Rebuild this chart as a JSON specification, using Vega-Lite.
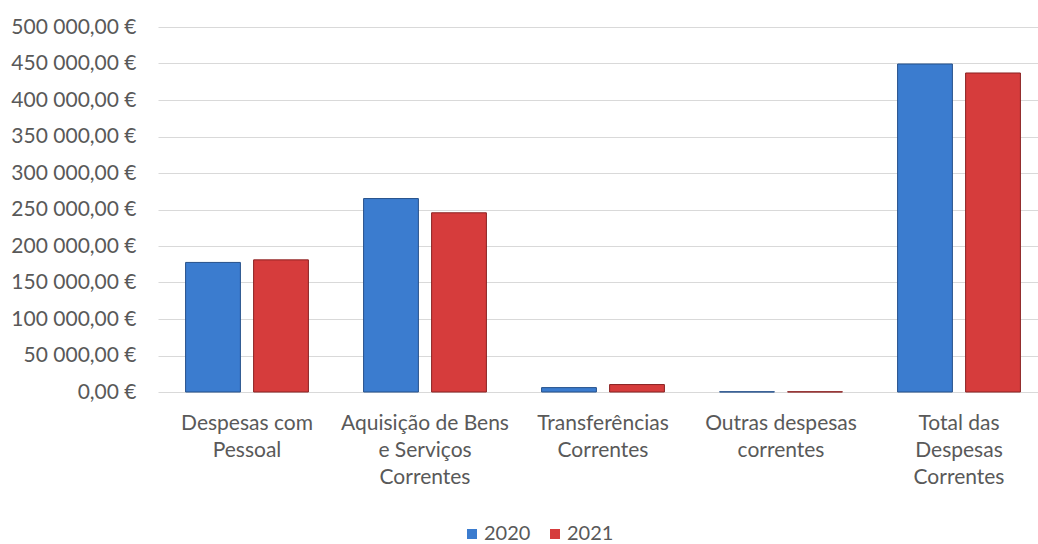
{
  "$schema": "https://vega.github.io/schema/vega-lite/v6.json",
  "autosize": "none",
  "width": 890,
  "height": 365,
  "padding": {"left": 158, "top": 27, "right": 0, "bottom": 152},
  "background": "white",
  "config": {
    "locale": {"number": {"decimal": ",", "thousands": " ", "grouping": [3], "currency": ["", " €"]}},
    "view": {"stroke": null},
    "font": "Lato"
  },
  "data": {
    "values": [
      {"cat": "Despesas com|Pessoal", "ord": 1, "ano": "2020", "valor": 177500},
      {"cat": "Despesas com|Pessoal", "ord": 1, "ano": "2021", "valor": 181000},
      {"cat": "Aquisição de Bens|e Serviços|Correntes", "ord": 2, "ano": "2020", "valor": 265000},
      {"cat": "Aquisição de Bens|e Serviços|Correntes", "ord": 2, "ano": "2021", "valor": 245500},
      {"cat": "Transferências|Correntes", "ord": 3, "ano": "2020", "valor": 6000},
      {"cat": "Transferências|Correntes", "ord": 3, "ano": "2021", "valor": 10200},
      {"cat": "Outras despesas|correntes", "ord": 4, "ano": "2020", "valor": 300},
      {"cat": "Outras despesas|correntes", "ord": 4, "ano": "2021", "valor": 300},
      {"cat": "Total das|Despesas|Correntes", "ord": 5, "ano": "2020", "valor": 449300},
      {"cat": "Total das|Despesas|Correntes", "ord": 5, "ano": "2021", "valor": 437000}
    ]
  },
  "mark": {"type": "bar", "strokeWidth": 1},
  "encoding": {
    "x": {
      "field": "cat", "type": "nominal", "sort": {"field": "ord"},
      "scale": {"paddingInner": 0.31, "paddingOuter": 0.155},
      "axis": {
        "title": null, "labelAngle": 0, "domain": false, "ticks": false,
        "labelExpr": "split(datum.label, '|')",
        "labelFontSize": 21, "labelColor": "#595959", "labelLineHeight": 27,
        "labelPadding": 20, "labelBaseline": "top", "labelLimit": 220, "labelOverlap": false
      }
    },
    "xOffset": {"field": "ano", "type": "nominal", "scale": {"paddingInner": 0.194, "paddingOuter": 0}},
    "y": {
      "field": "valor", "type": "quantitative",
      "scale": {"domain": [0, 500000]},
      "axis": {
        "title": null, "format": "$,.2f", "values": [0,50000,100000,150000,200000,250000,300000,350000,400000,450000,500000],
        "domain": false, "ticks": false, "gridColor": "#d9d9d9", "gridWidth": 1.2,
        "labelFontSize": 21, "labelColor": "#595959", "labelPadding": 22, "labelOverlap": false, "labelLimit": 200
      }
    },
    "color": {
      "field": "ano", "type": "nominal",
      "scale": {"domain": ["2020", "2021"], "range": ["#3b7ccf", "#d63c3c"]},
      "legend": {
        "title": null, "orient": "none", "direction": "horizontal", "legendX": 304, "legendY": 497,
        "symbolType": "square", "symbolSize": 100, "labelFontSize": 20, "labelColor": "#595959",
        "columnPadding": 14, "labelOffset": 2, "symbolStrokeWidth": 0
      }
    },
    "stroke": {
      "field": "ano", "type": "nominal",
      "scale": {"domain": ["2020", "2021"], "range": ["#25508a", "#8a2222"]},
      "legend": null
    }
  }
}
